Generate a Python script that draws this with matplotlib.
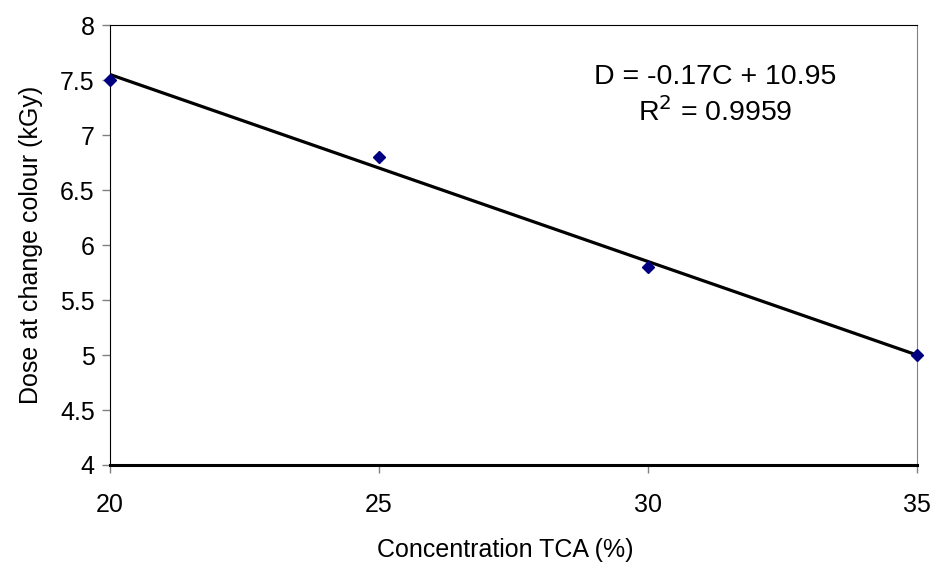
import numpy as np
import matplotlib.pyplot as plt

# 数据
conc = [20, 25, 30, 35]
dose = [7.5, 6.8, 5.8, 5.0]
x_ticks = [20, 25, 30, 35]
y_ticks = [4, 4.5, 5, 5.5, 6, 6.5, 7, 7.5, 8]

plt.rcParams['font.family'] = ['Liberation Sans', 'DejaVu Sans']

fig = plt.figure(figsize=(9.35, 5.62), dpi=100)
ax = fig.add_axes([0.1176, 0.1726, 0.8631, 0.7829])

# 线性拟合
slope, intercept = np.polyfit(conc, dose, 1)
xs = np.array([conc[0], conc[-1]])
ax.plot(xs, slope * xs + intercept, color='black', linewidth=2.3, zorder=2)
ax.plot(conc, dose, linestyle='none', marker='D', markersize=6.5,
        color='#000080', clip_on=False, zorder=3)

ax.set_xlim(20, 35)
ax.set_ylim(4, 8)
ax.set_xticks(x_ticks)
ax.set_yticks(y_ticks)
ax.set_yticklabels([f'{v:g}' for v in y_ticks])
ax.tick_params(axis='both', direction='out', length=6, width=1,
               color='#808080', labelsize=18, pad=5)
ax.tick_params(axis='x', pad=14)

ax.spines['top'].set_color('black')
ax.spines['left'].set_color('black')
ax.spines['bottom'].set_color('black')
ax.spines['bottom'].set_linewidth(2.2)
ax.spines['right'].set_color('#808080')

ax.set_xlabel('Concentration TCA (%)', fontsize=18)
ax.xaxis.set_label_coords(0.49, -0.165)
ax.set_ylabel('Dose at change colour (kGy)', fontsize=18, labelpad=12)

ax.text(0.75, 0.84, 'D = -0.17C + 10.95\nR$^2$ = 0.9959', transform=ax.transAxes,
        ha='center', va='center', fontsize=20.5, linespacing=1.3)

fig.savefig('out.png', dpi=100)
